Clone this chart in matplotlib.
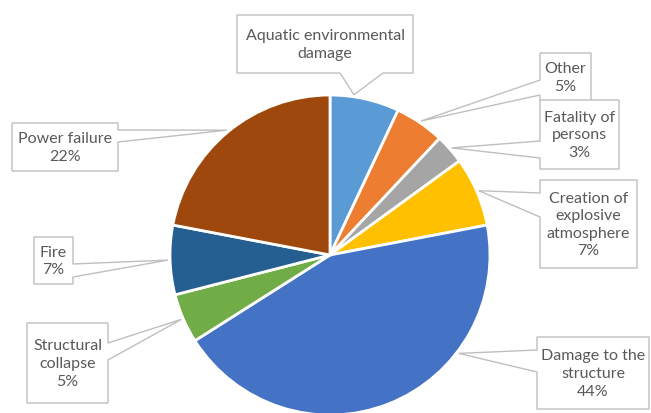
import numpy as np
import matplotlib
matplotlib.use("Agg")
from matplotlib import pyplot as plt
from matplotlib.patches import Polygon

# Data
categories = ["Aquatic environmental damage", "Other", "Fatality of persons",
              "Creation of explosive atmosphere", "Damage to the structure",
              "Structural collapse", "Fire", "Power failure"]
shares = [7, 5, 3, 7, 44, 5, 7, 22]
display_labels = ["Aquatic environmental\ndamage", "Other\n5%", "Fatality of\npersons\n3%",
                  "Creation of\nexplosive\natmosphere\n7%", "Damage to the\nstructure\n44%",
                  "Structural\ncollapse\n5%", "Fire\n7%", "Power failure\n22%"]
colors = ["#5B9BD5", "#ED7D31", "#A5A5A5", "#FFC000", "#4472C4", "#70AD47", "#255E91", "#9E480E"]

# Layout (pixel coordinates, y downward)
CENTER = (330, 255)
RADIUS = 160
boxes = {  # x0, y0, x1, y1, side, base start, base end
    0: (237, 15, 413, 73, "bottom", 340, 383),
    1: (540, 53, 591, 101, "left", 80, 95),
    2: (540, 100, 619, 169, "left", 141, 158),
    3: (540, 180, 637, 268, "left", 193, 217),
    4: (537, 337, 649, 409, "left", 350, 372),
    5: (27, 323, 108, 403, "right", 343, 360),
    6: (34, 237, 73, 284, "right", 264, 277),
    7: (12, 123, 118, 171, "right", 130, 142),
}
tip_angle_override = {0: -81.5, 4: 37.4}


def callout_polygon(x0, y0, x1, y1, side, a, b, tip):
    pts = [(x0, y0)]
    if side == "top":
        pts += [(a, y0), tip, (b, y0)]
    pts.append((x1, y0))
    if side == "right":
        pts += [(x1, a), tip, (x1, b)]
    pts.append((x1, y1))
    if side == "bottom":
        pts += [(b, y1), tip, (a, y1)]
    pts.append((x0, y1))
    if side == "left":
        pts += [(x0, b), tip, (x0, a)]
    return pts


fig = plt.figure(figsize=(6.51, 4.13), dpi=100)
ax = fig.add_axes([0, 0, 1, 1])
ax.axis("off")

# y axis is inverted: startangle -90 is the top, counterclock runs clockwise on screen
wedges, _ = ax.pie(shares, colors=colors, startangle=-90, counterclock=True,
                   center=CENTER, radius=RADIUS,
                   wedgeprops=dict(edgecolor="white", linewidth=2))
ax.set_xlim(0, 651)
ax.set_ylim(413, 0)

total = sum(shares)
cum = np.cumsum([0] + shares)
for i, lab in enumerate(display_labels):
    mid = -90 + (cum[i] + shares[i] / 2) / total * 360
    mid = tip_angle_override.get(i, mid)
    tip = (CENTER[0] + (RADIUS + 2) * np.cos(np.radians(mid)),
           CENTER[1] + (RADIUS + 2) * np.sin(np.radians(mid)))
    x0, y0, x1, y1, side, a, b = boxes[i]
    poly = Polygon(callout_polygon(x0, y0, x1, y1, side, a, b, tip), closed=True,
                   facecolor="white", edgecolor="#BFBFBF", linewidth=1, zorder=3 + i)
    ax.add_patch(poly)
    ax.text((x0 + x1) / 2, (y0 + y1) / 2 + 1, lab, ha="center", va="center",
            fontsize=11.5, color="#595959", family="Lato", linespacing=1.32, zorder=3 + i)

fig.savefig("out.png", dpi=100)
